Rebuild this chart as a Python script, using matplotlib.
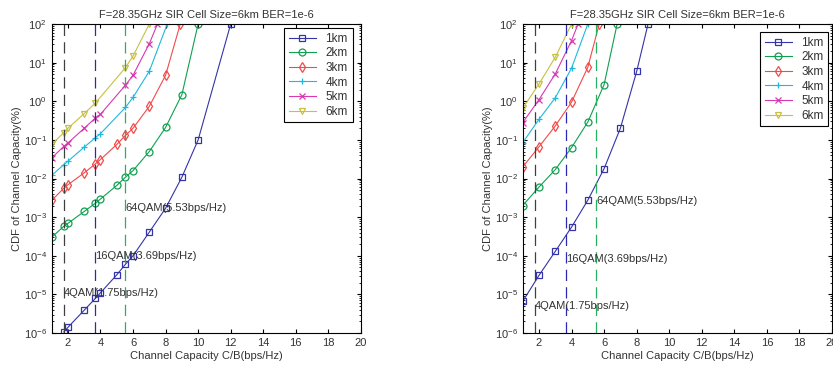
import matplotlib
matplotlib.use('Agg')
import matplotlib.pyplot as plt
import numpy as np

plt.rcParams['font.family'] = ['Liberation Sans', 'DejaVu Sans']
plt.rcParams['font.size'] = 8
fontsize = 8

title = 'F=28.35GHz SIR Cell Size=6km BER=1e-6'
xlabel = 'Channel Capacity C/B(bps/Hz)'
ylabel = 'CDF of Channel Capacity(%)'
labels = ['1km', '2km', '3km', '4km', '5km', '6km']

# left panel (points at integer capacities plus the modulation thresholds)
left_x = [
    [1.75, 2, 3, 3.69, 4, 5, 5.53, 6, 7, 8, 9, 10, 12],
    [1, 1.75, 2, 3, 3.69, 4, 5, 5.53, 6, 7, 8, 9, 10],
    [1, 1.75, 2, 3, 3.69, 4, 5, 5.53, 6, 7, 8, 8.9],
    [1, 1.75, 2, 3, 3.69, 4, 5.53, 6, 7, 8.1],
    [1, 1.75, 2, 3, 3.69, 4, 5.53, 6, 7, 7.5],
    [1, 1.75, 2, 3, 3.69, 5.53, 6, 7],
]
left_y = [
    [1.07e-6, 1.4e-6, 3.9e-6, 7.9e-6, 1.1e-5, 3.2e-5, 6.0e-5, 1.0e-4, 4.1e-4, 1.7e-3, 1.08e-2, 0.1, 100],
    [3.0e-4, 5.8e-4, 6.9e-4, 1.4e-3, 2.3e-3, 2.95e-3, 6.6e-3, 1.08e-2, 1.6e-2, 5.0e-2, 0.21, 1.48, 100],
    [2.7e-3, 5.6e-3, 6.9e-3, 1.4e-2, 2.4e-2, 3.1e-2, 7.6e-2, 0.13, 0.2, 0.74, 4.7, 100],
    [0.012, 0.023, 0.028, 0.065, 0.114, 0.145, 0.69, 1.26, 6.0, 100],
    [0.034, 0.068, 0.083, 0.2, 0.37, 0.46, 2.6, 4.7, 31, 100],
    [0.076, 0.155, 0.2, 0.48, 0.9, 7.4, 14.8, 100],
]

# right panel
right_x = [
    [1, 2, 3, 4, 5, 6, 7, 8, 8.7],
    [1, 2, 3, 4, 5, 6, 6.8],
    [1, 2, 3, 4, 5, 5.7],
    [1, 2, 3, 4, 5],
    [1, 2, 3, 4, 4.4],
    [1, 2, 3, 4],
]
right_y = [
    [6.6e-6, 3.1e-5, 1.3e-4, 5.5e-4, 2.75e-3, 0.018, 0.2, 5.9, 100],
    [2.0e-3, 6.0e-3, 0.017, 0.063, 0.29, 2.7, 100],
    [0.02, 0.066, 0.23, 0.95, 7.6, 100],
    [0.085, 0.34, 1.23, 7.2, 100],
    [0.28, 1.1, 5.1, 37, 100],
    [0.66, 2.8, 13.8, 100],
]

thresholds = [1.75, 3.69, 5.53]
qam_labels = ['4QAM(1.75bps/Hz)', '16QAM(3.69bps/Hz)', '64QAM(5.53bps/Hz)']
left_text_y = [1.1e-5, 1.0e-4, 1.7e-3]
right_text_y = [5.0e-6, 8.3e-5, 2.6e-3]

colors = ['#3434a8', '#10a050', '#f24a4a', '#20b8dc', '#d838b0', '#c8c040']
markers = ['s', 'o', 'd', '+', 'x', 'v']
thr_colors = ['#404040', '#2a2ab0', '#28b060']
txt = '#333333'


def draw(ax, xs, ys, text_y, leg_anchor):
    for x, y, c, m, lab in zip(xs, ys, colors, markers, labels):
        ax.plot(x, y, color=c, marker=m, markersize=5, markerfacecolor='none',
                markeredgewidth=0.9, linewidth=0.8, label=lab)
    for t, c in zip(thresholds, thr_colors):
        ax.plot([t, t], [1e-6, 1e2], color=c, linestyle=(0, (9, 5)), linewidth=0.9)
    for t, s, ty in zip(thresholds, qam_labels, text_y):
        ax.text(t, ty, s, ha='left', va='center', fontsize=fontsize, color=txt)
    ax.set_yscale('log')
    ax.set_xlim(1, 20)
    ax.set_ylim(1e-6, 1e2)
    ax.set_xticks(np.arange(2, 21, 2))
    ax.set_yticks([10.0 ** k for k in range(-6, 3)])
    ax.tick_params(which='both', direction='in', top=True, right=True,
                   labelsize=fontsize, labelcolor=txt)
    ax.tick_params(which='major', length=3)
    ax.tick_params(which='minor', length=1.5)
    ax.set_title(title, fontsize=fontsize, color=txt, pad=4)
    ax.set_xlabel(xlabel, fontsize=fontsize, color=txt, labelpad=2)
    ax.set_ylabel(ylabel, fontsize=fontsize, color=txt, labelpad=1)
    for sp in ax.spines.values():
        sp.set_linewidth(0.8)
    leg = ax.legend(loc='upper right', bbox_to_anchor=leg_anchor, fontsize=8.5,
                    handlelength=2.3, labelspacing=0.22, borderpad=0.4,
                    handletextpad=0.8, fancybox=False, framealpha=1,
                    edgecolor='black', borderaxespad=0)
    leg.get_frame().set_linewidth(0.8)
    for t in leg.get_texts():
        t.set_color(txt)


fig = plt.figure(figsize=(8.33, 3.71), dpi=100)
ax1 = fig.add_axes([0.062, 0.1024, 0.3713, 0.8329])
ax2 = fig.add_axes([0.6275, 0.1024, 0.3713, 0.8329])
draw(ax1, left_x, left_y, left_text_y, (0.973, 0.987))
draw(ax2, right_x, right_y, right_text_y, (0.988, 0.974))

fig.savefig('out.png', dpi=100)
